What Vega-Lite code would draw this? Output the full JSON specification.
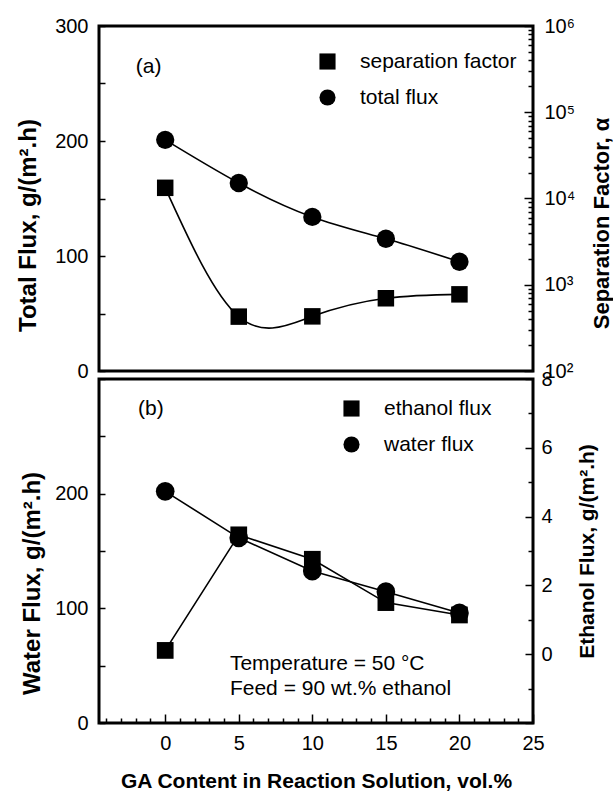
{
  "$schema": "https://vega.github.io/schema/vega-lite/v6.json",
  "padding": {"left": 14, "top": 14, "right": 4, "bottom": 4},
  "background": "white",
  "data": {"values": [
    {"ga": 0, "total_flux": 201, "sep_factor": 13300, "water_flux": 202, "ethanol_flux": 0.11},
    {"ga": 5, "total_flux": 163.5, "sep_factor": 427, "water_flux": 161.5, "ethanol_flux": 3.47},
    {"ga": 10, "total_flux": 134, "sep_factor": 430, "water_flux": 132.5, "ethanol_flux": 2.76},
    {"ga": 15, "total_flux": 115, "sep_factor": 697, "water_flux": 114.5, "ethanol_flux": 1.5},
    {"ga": 20, "total_flux": 95, "sep_factor": 774, "water_flux": 96, "ethanol_flux": 1.14}
  ]},
  "spacing": 8,
  "bounds": "flush",
  "vconcat": [
    {
      "width": 434,
      "height": 345,
      "encoding": {
        "x": {"field": "ga", "type": "quantitative", "scale": {"domain": [-4.5, 25], "nice": false, "zero": false}, "axis": null}
      },
      "layer": [
        {
          "encoding": {
            "y": {"field": "total_flux", "type": "quantitative", "scale": {"domain": [0, 300], "nice": false, "zero": false},
              "axis": {"orient": "left", "title": "Total Flux, g/(m².h)", "values": [0, 50, 100, 150, 200, 250, 300],
                "labelExpr": "datum.value % 100 === 0 ? datum.label : ''", "tickSize": -6, "labelPadding": 17,
                "titleX": -71, "titleY": 199, "titleAngle": 270, "titleBaseline": "middle", "titleFontSize": 24}}
          },
          "layer": [
            {"mark": {"type": "line", "interpolate": "natural", "color": "black", "strokeWidth": 1.6}},
            {"mark": {"type": "point", "filled": true, "color": "black", "opacity": 1, "size": 335},
              "encoding": {"shape": {"datum": "total flux", "scale": {"domain": ["separation factor", "total flux"], "range": ["square", "circle"]},
                "legend": {"orient": "none", "legendX": 218, "legendY": 25, "title": null}}}},
            {"transform": [{"filter": "datum.ga === 0"}],
              "mark": {"type": "text", "align": "left", "baseline": "middle", "fontSize": 21, "fontWeight": "normal", "font": "Liberation Sans", "color": "black"},
              "encoding": {"x": {"datum": -2}, "y": {"datum": 264}, "text": {"value": "(a)"}}}
          ]
        },
        {
          "encoding": {
            "y": {"field": "sep_factor", "type": "quantitative", "scale": {"type": "log", "domain": [100, 1000000], "nice": false},
              "axis": {"orient": "right", "title": "Separation Factor, α",
                "values": [100, 200, 300, 400, 500, 600, 700, 800, 900, 1000, 2000, 3000, 4000, 5000, 6000, 7000, 8000, 9000, 10000, 20000, 30000, 40000, 50000, 60000, 70000, 80000, 90000, 100000, 200000, 300000, 400000, 500000, 600000, 700000, 800000, 900000, 1000000],
                "labelExpr": "datum.value === 100 ? '10²' : datum.value === 1000 ? '10³' : datum.value === 10000 ? '10⁴' : datum.value === 100000 ? '10⁵' : datum.value === 1000000 ? '10⁶' : ''",
                "tickSize": {"condition": {"test": "indexof([100, 1000, 10000, 100000, 1000000], datum.value) >= 0", "value": -9}, "value": -5},
                "labelPadding": 20,
                "titleX": 68, "titleY": 197, "titleAngle": 270, "titleBaseline": "middle", "titleFontSize": 22}}
          },
          "layer": [
            {"mark": {"type": "line", "interpolate": "natural", "color": "black", "strokeWidth": 1.6}},
            {"mark": {"type": "point", "filled": true, "color": "black", "opacity": 1, "size": 272},
              "encoding": {"shape": {"datum": "separation factor", "scale": {"domain": ["separation factor", "total flux"], "range": ["square", "circle"]},
                "legend": {"orient": "none", "legendX": 218, "legendY": 25, "title": null}}}}
          ]
        }
      ],
      "resolve": {"scale": {"y": "independent"}}
    },
    {
      "width": 434,
      "height": 344,
      "encoding": {
        "x": {"field": "ga", "type": "quantitative", "scale": {"domain": [-4.5, 25], "nice": false, "zero": false},
          "axis": {"orient": "bottom", "title": "GA Content in Reaction Solution, vol.%",
            "values": [-4, -3, -2, -1, 0, 1, 2, 3, 4, 5, 6, 7, 8, 9, 10, 11, 12, 13, 14, 15, 16, 17, 18, 19, 20, 21, 22, 23, 24, 25],
            "labelExpr": "datum.value >= 0 && datum.value % 5 === 0 ? datum.label : ''",
            "tickSize": {"condition": {"test": "datum.value % 5 === 0", "value": -9}, "value": -5},
            "labelPadding": 19, "titleFontSize": 21, "titleY": 58, "titleBaseline": "middle"}}
      },
      "layer": [
        {
          "encoding": {
            "y": {"field": "water_flux", "type": "quantitative", "scale": {"domain": [0, 300], "nice": false, "zero": false},
              "axis": {"orient": "left", "title": "Water Flux, g/(m².h)", "values": [0, 50, 100, 150, 200, 250, 300],
                "labelExpr": "datum.value % 100 === 0 && datum.value < 300 ? datum.label : ''", "tickSize": -6, "labelPadding": 17,
                "titleX": -67, "titleY": 204, "titleAngle": 270, "titleBaseline": "middle", "titleFontSize": 24}}
          },
          "layer": [
            {"mark": {"type": "line", "color": "black", "strokeWidth": 1.6}},
            {"mark": {"type": "point", "filled": true, "color": "black", "opacity": 1, "size": 350},
              "encoding": {"shape": {"datum": "water flux", "scale": {"domain": ["ethanol flux", "water flux"], "range": ["square", "circle"]},
                "legend": {"orient": "none", "legendX": 242, "legendY": 19, "title": null}}}},
            {"transform": [{"filter": "datum.ga === 0"}],
              "mark": {"type": "text", "align": "left", "baseline": "middle", "fontSize": 21, "fontWeight": "normal", "font": "Liberation Sans", "color": "black"},
              "encoding": {"x": {"datum": -1.85}, "y": {"datum": 274}, "text": {"value": "(b)"}}},
            {"transform": [{"filter": "datum.ga === 0"}],
              "mark": {"type": "text", "align": "left", "baseline": "middle", "fontSize": 21, "fontWeight": "normal", "font": "Liberation Sans", "color": "black"},
              "encoding": {"x": {"datum": 4.4}, "y": {"datum": 51.5}, "text": {"value": "Temperature = 50 °C"}}},
            {"transform": [{"filter": "datum.ga === 0"}],
              "mark": {"type": "text", "align": "left", "baseline": "middle", "fontSize": 21, "fontWeight": "normal", "font": "Liberation Sans", "color": "black"},
              "encoding": {"x": {"datum": 4.4}, "y": {"datum": 29.6}, "text": {"value": "Feed = 90 wt.% ethanol"}}}
          ]
        },
        {
          "encoding": {
            "y": {"field": "ethanol_flux", "type": "quantitative", "scale": {"domain": [-2, 8], "nice": false, "zero": false},
              "axis": {"orient": "right", "title": "Ethanol Flux, g/(m².h)", "values": [-2, -1, 0, 1, 2, 3, 4, 5, 6, 7, 8],
                "labelExpr": "datum.value >= 0 && datum.value % 2 === 0 ? datum.label : ''",
                "tickSize": {"condition": {"test": "datum.value % 2 === 0", "value": -8}, "value": -5},
                "labelPadding": 16,
                "titleX": 54, "titleY": 172, "titleAngle": 270, "titleBaseline": "middle", "titleFontSize": 21}}
          },
          "layer": [
            {"mark": {"type": "line", "color": "black", "strokeWidth": 1.6}},
            {"mark": {"type": "point", "filled": true, "color": "black", "opacity": 1, "size": 280},
              "encoding": {"shape": {"datum": "ethanol flux", "scale": {"domain": ["ethanol flux", "water flux"], "range": ["square", "circle"]},
                "legend": {"orient": "none", "legendX": 242, "legendY": 19, "title": null}}}}
          ]
        }
      ],
      "resolve": {"scale": {"y": "independent"}}
    }
  ],
  "resolve": {"scale": {"shape": "independent"}, "legend": {"shape": "independent"}},
  "config": {
    "font": "Liberation Sans",
    "view": {"stroke": "black", "strokeWidth": 3},
    "axis": {"grid": false, "domain": false, "labelFont": "Liberation Sans", "labelFontSize": 20, "labelColor": "black",
      "titleFont": "Liberation Sans", "titleFontWeight": "bold", "titleColor": "black", "tickColor": "black", "tickWidth": 1.5,
      "labelFlush": false, "labelOverlap": false},
    "legend": {"labelFont": "Liberation Sans", "labelFontSize": 21, "labelColor": "black", "symbolFillColor": "black",
      "symbolStrokeColor": "black", "symbolStrokeWidth": 0, "symbolSize": 260, "symbolOpacity": 1, "padding": 0,
      "rowPadding": 14, "labelOffset": 22}
  }
}
